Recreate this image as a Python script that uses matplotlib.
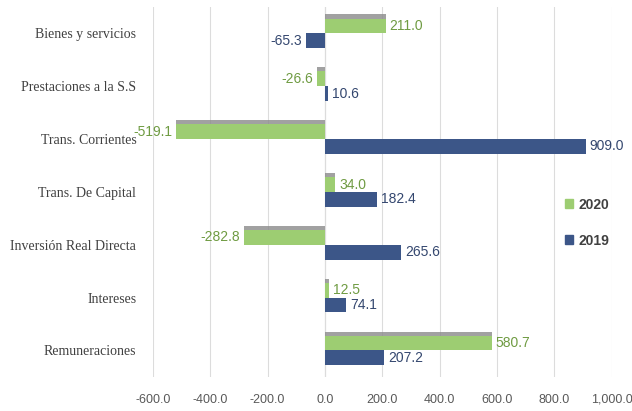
import numpy as np
import matplotlib
matplotlib.use('Agg')
import matplotlib.pyplot as plt
import matplotlib.patheffects as pe
from matplotlib.patches import Patch

# Datos por partida (millones)
categorias = ['Bienes y servicios', 'Prestaciones a la S.S', 'Trans. Corrientes',
              'Trans. De Capital', 'Inversión Real Directa', 'Intereses', 'Remuneraciones']
v2020 = [211.0, -26.6, -519.1, 34.0, -282.8, 12.5, 580.7]
v2019 = [-65.3, 10.6, 909.0, 182.4, 265.6, 74.1, 207.2]
ticks_x = [-600, -400, -200, 0, 200, 400, 600, 800, 1000]

verde = '#9dcd72'
azul = '#3c5688'
txt_verde = '#6f9b42'
txt_azul = '#34476f'

fig = plt.figure(figsize=(6.32, 4.11), dpi=100)
ax = fig.add_axes([0.242, 0.083, 0.726, 0.9])

y = np.arange(len(categorias))
h = 0.28

b20 = ax.barh(y - h / 2, v2020, height=h, color=verde, zorder=3,
              path_effects=[pe.SimplePatchShadow(offset=(0, 3), shadow_rgbFace='#8a8a8a', alpha=0.8),
                            pe.Normal()])
b19 = ax.barh(y + h / 2, v2019, height=h, color=azul, zorder=3)

ax.bar_label(b20, fmt='%.1f', padding=3, color=txt_verde, fontsize=10,
             family='Liberation Sans')
ax.bar_label(b19, fmt='%.1f', padding=3, color=txt_azul, fontsize=10,
             family='Liberation Sans')

ax.set_xlim(-600, 1000)
ax.set_ylim(len(categorias) - 0.5, -0.5)
ax.set_xticks(ticks_x)
ax.set_xticklabels([f'{t:,.1f}' for t in ticks_x], family='Liberation Sans',
                   fontsize=9, color='#595959')
ax.set_yticks(y)
ax.set_yticklabels(categorias, family='Liberation Serif', fontsize=10, color='#404040')
ax.tick_params(axis='y', length=0, pad=12)
ax.tick_params(axis='x', length=0, pad=12)

ax.grid(axis='x', color='#dcdcdc', linewidth=0.8, zorder=0)
ax.axvline(0, color='#d0d0d0', linewidth=0.8, zorder=1)
for s in ax.spines.values():
    s.set_visible(False)

handles = [Patch(color=verde), Patch(color=azul)]
ax.legend(handles, ['2020', '2019'], loc='center', bbox_to_anchor=(0.947, 0.417),
          frameon=False, handlelength=0.6, handleheight=0.6, handletextpad=0.4,
          labelspacing=1.6, prop={'family': 'Liberation Sans', 'size': 10, 'weight': 'bold'},
          labelcolor='#404040')

fig.savefig('out.png', dpi=100)
